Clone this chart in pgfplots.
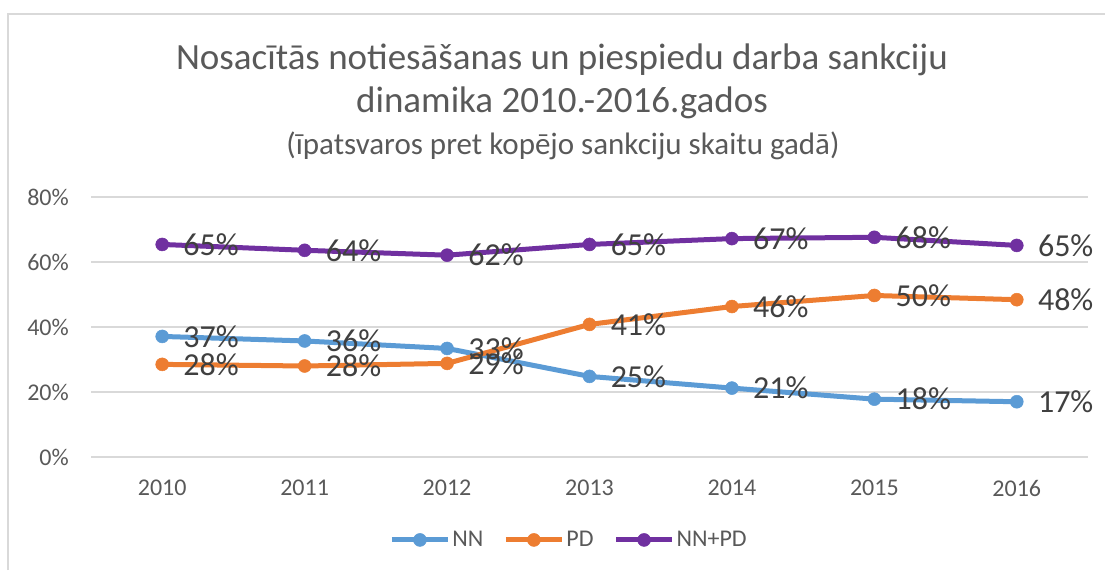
\documentclass[border=0pt]{standalone}
\usepackage{fontspec}
\setmainfont{Carlito}
\usepackage{pgfplots}
\usepackage{pgfplotstable}
\pgfplotsset{compat=1.18}
\definecolor{cNN}{HTML}{5B9BD5}
\definecolor{cPD}{HTML}{ED7D31}
\definecolor{cSum}{HTML}{7030A0}
\definecolor{txt}{HTML}{595959}
\definecolor{lbl}{HTML}{404040}
\definecolor{gridc}{HTML}{D9D9D9}

\pgfplotstableread{
x y lab
0 37.1 37
1 35.7 36
2 33.4 33
3 24.8 25
4 21.2 21
5 17.8 18
6 17.0 17
}\nn
\pgfplotstableread{
x y lab
0 28.5 28
1 28.0 28
2 28.8 29
3 40.8 41
4 46.3 46
5 49.7 50
6 48.4 48
}\pd
\pgfplotstableread{
x y lab
0 65.4 65
1 63.6 64
2 62.1 62
3 65.4 65
4 67.2 67
5 67.6 68
6 65.1 65
}\sm

\begin{document}
\begin{tikzpicture}[x=1pt,y=1pt]
\useasboundingbox (0,0) rectangle (1105,570);
\draw[gridc, line width=1.2pt] (8,0) -- (8,556) -- (1105,556);
\node[txt, font=\fontsize{37}{40}\selectfont] at (562,510) {Nosacītās notiesāšanas un piespiedu darba sankciju};
\node[txt, font=\fontsize{37}{40}\selectfont] at (562,467) {dinamika 2010.-2016.gados};
\node[txt, font=\fontsize{31}{34}\selectfont] at (563,424) {(īpatsvaros pret kopējo sankciju skaitu gadā)};
\begin{axis}[
  at={(91pt,113pt)}, anchor=south west,
  scale only axis, width=997pt, height=260pt,
  xmin=-0.5, xmax=6.5, ymin=0, ymax=80,
  ytick={0,20,40,60,80},
  yticklabels={0\%,20\%,40\%,60\%,80\%},
  xtick={0,1,2,3,4,5,6},
  xticklabels={2010,2011,2012,2013,2014,2015,2016},
  axis line style={draw=none},
  major tick length=0pt,
  ymajorgrids,
  grid style={gridc, line width=1.5pt},
  tick label style={txt, font=\fontsize{24}{27}\selectfont},
  yticklabel style={anchor=east, inner sep=0pt, xshift=-22pt},
  xticklabel style={anchor=north, inner sep=0pt, yshift=-23pt},
  clip=false,
  legend columns=3,
  legend style={at={(0.4795,-0.319)}, anchor=center, draw=none,
    font=\fontsize{24}{27}\selectfont, text=txt,
    /tikz/every even column/.append style={column sep=18pt},
    nodes={inner sep=2pt}},
  legend image code/.code={\draw[#1, mark repeat=2, mark phase=2] plot coordinates {(0pt,0pt) (28pt,0pt) (56pt,0pt)};},
  every axis plot/.append style={line width=5pt, mark=*, mark size=6.5pt,
    mark options={solid, line width=0.5pt},
    nodes near coords={\pgfplotspointmeta\%},
    point meta=explicit symbolic,
    every node near coord/.style={anchor=west, xshift=21pt, inner sep=0pt, text=lbl, font=\fontsize{32}{36}\selectfont}},
]
\addplot[cNN] table[x=x,y=y,meta=lab]{\nn};
\addlegendentry{NN}
\addplot[cPD] table[x=x,y=y,meta=lab]{\pd};
\addlegendentry{PD}
\addplot[cSum] table[x=x,y=y,meta=lab]{\sm};
\addlegendentry{NN+PD}
\end{axis}
\end{tikzpicture}
\end{document}
